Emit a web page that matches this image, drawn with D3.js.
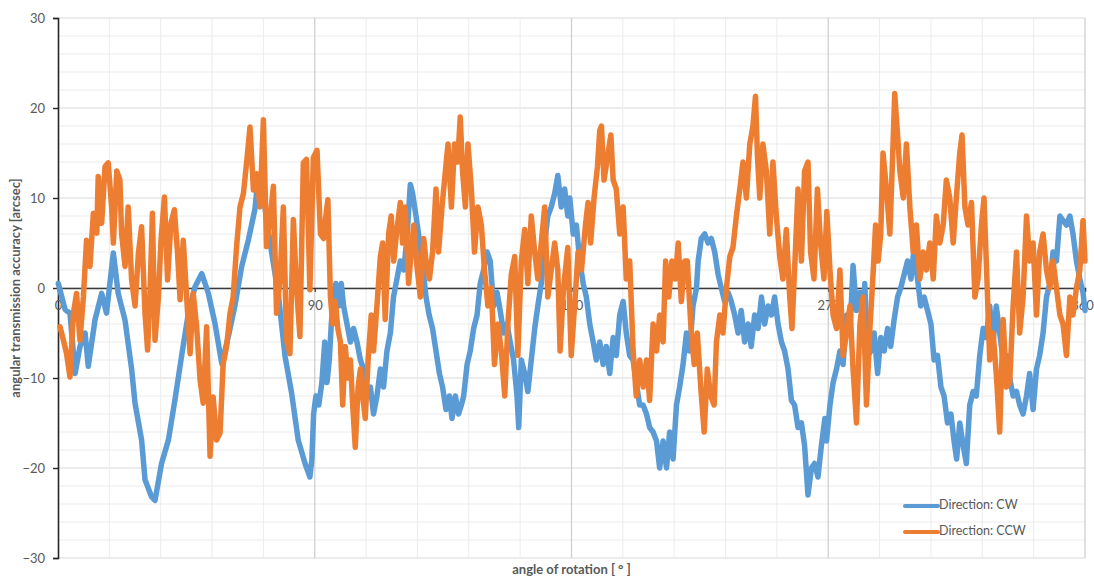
<!DOCTYPE html>
<html>
<head>
<meta charset="utf-8">
<script src="https://cdn.jsdelivr.net/npm/d3@7"></script>
<style>
  html, body { margin: 0; padding: 0; background: #ffffff; }
  svg { display: block; }
  text { font-family: Lato, "Open Sans", "Liberation Sans", sans-serif; }
</style>
</head>
<body>
<svg id="chart" width="1094" height="580"></svg>
<script>
// ---------- data ----------
const xTickLabels = ["0", "90", "180", "270", "360"];
const xTickValues = [0, 90, 180, 270, 360];
const yTickValues = [-30, -20, -10, 0, 10, 20, 30];
const seriesNames = ["Direction: CW", "Direction: CCW"];

const cwAngle = [
  0.1, 2.5, 4.2, 6.0, 7.7, 9.5, 10.6, 13.0, 15.3, 17.0, 19.4, 21.1, 23.5, 25.8, 27.0, 29.3, 30.5, 32.8, 34.0, 36.3,
  38.7, 41.0, 43.3, 45.7, 48.0, 50.4, 52.7, 55.0, 57.4, 59.7, 62.0, 64.4, 66.7, 69.0, 70.2, 72.5, 74.9, 77.2, 79.6, 81.9,
  84.2, 86.6, 88.3, 89.0, 89.6, 90.4, 91.4, 92.5, 93.5, 94.3, 95.1, 95.8, 96.6, 97.4, 98.4, 99.3, 100.1, 101.3, 102.5, 103.6,
  104.8, 106.0, 107.1, 108.3, 109.5, 110.6, 111.8, 113.0, 114.1, 115.3, 116.5, 117.6, 118.8, 120.0, 121.2, 122.3, 123.5, 124.3, 125.5, 126.6,
  127.8, 129.0, 130.1, 131.3, 132.5, 133.7, 134.8, 136.0, 137.2, 138.1, 139.3, 140.4, 141.4, 142.2, 143.4, 144.5, 145.7, 146.9, 148.0, 149.2,
  150.4, 151.5, 152.7, 153.9, 155.0, 156.2, 157.4, 158.5, 159.7, 160.9, 161.5, 162.4, 163.6, 164.7, 165.9, 167.1, 168.2, 169.4, 170.6, 171.7,
  172.9, 174.1, 175.2, 176.4, 177.6, 178.7, 179.4, 180.6, 181.7, 182.9, 184.1, 185.2, 186.4, 187.6, 188.7, 189.9, 191.1, 192.2, 193.4, 194.6,
  195.7, 196.9, 198.1, 199.2, 200.4, 201.6, 202.7, 203.9, 205.1, 206.3, 207.4, 208.6, 209.8, 210.9, 212.1, 213.3, 214.4, 215.6, 216.8, 217.9,
  219.1, 220.3, 221.4, 222.6, 223.8, 224.4, 225.5, 226.7, 227.9, 229.0, 230.2, 231.4, 232.5, 233.7, 234.9, 236.0, 237.2, 238.4, 239.5, 240.7,
  241.9, 243.0, 244.2, 245.4, 246.6, 247.7, 248.9, 250.1, 251.2, 252.4, 253.6, 254.7, 255.9, 257.1, 258.2, 259.4, 260.6, 261.7, 262.9, 264.1,
  265.2, 266.4, 267.6, 268.8, 269.4, 270.6, 271.7, 272.9, 274.1, 275.2, 276.4, 277.6, 278.7, 279.9, 281.1, 282.2, 282.8, 283.8, 285.0, 286.1,
  287.3, 288.4, 289.6, 290.8, 291.9, 293.1, 294.3, 295.4, 296.6, 297.8, 299.0, 300.1, 301.3, 302.4, 303.6, 304.8, 306.0, 307.1, 308.3, 309.5,
  310.6, 311.8, 313.0, 314.1, 315.0, 316.1, 317.3, 318.4, 319.6, 320.8, 321.9, 323.1, 324.3, 325.4, 326.6, 327.8, 328.9, 330.1, 331.3, 332.5,
  333.6, 334.8, 336.0, 337.1, 338.3, 339.5, 340.6, 341.8, 343.0, 344.1, 345.3, 346.5, 347.7, 348.8, 350.0, 351.2, 352.3, 353.5, 354.7, 355.8,
  357.0, 358.2, 359.3, 360.0
];
const cwValue = [
  0.5, -2.4, -2.8, -9.5, -6.5, -5, -8.7, -3.5, -0.6, -2.8, 3.9, -0.6, -3.6, -9, -12.8, -16.9, -21.3, -23.2, -23.6, -19.5,
  -16.9, -12.4, -7.6, -2.8, 0.1, 1.6, -0.6, -3.9, -8.4, -5.4, -2, 2.4, 5.3, 8.7, 12.4, 9, 3.9, -0.6, -7.6, -11.7,
  -16.9, -19.5, -21, -19, -14, -12, -13, -10.5, -6, -10.5, -8, -4, -1, 0.5, -2, 0.5, -2, -4, -6, -4.5,
  -6, -8, -9, -12, -11, -14, -12, -9, -11, -7, -5, -1, 1, 3, 2, 5.5, 11.5, 10.5, 8, 5.5,
  2.5, -1, -3, -4.5, -7, -9.5, -11, -13.5, -12, -14.5, -12, -14, -13, -12, -8.5, -7, -4.5, -3, 0.5, 2,
  4, 3, -2, -0.5, -2.5, -5, -4, -6, -8, -12, -15.5, -8, -9.5, -11.5, -8, -4.5, -2, 0.5, 5, 8,
  9, 10.5, 12.5, 9, 11, 8, 10, 6, 7, 3, 0.5, -1, -4, -6, -8, -6, -8.5, -6.5, -9.5, -5.5,
  -7.5, -3, -1.5, -5, -7.5, -8, -10.5, -13, -13, -14, -15.5, -16, -17, -20, -17, -20, -16, -19, -13, -11,
  -8.5, -5, -7, -2, 0, 3, 5.5, 6, 5, 5.5, 4, 1.5, 0, -1.5, -0.5, -1.5, -3, -5, -2.5, -6,
  -4, -6.5, -3, -4.5, -1, -4, -2, -3, -1, -4, -6, -7, -9, -12.5, -13, -15.5, -15, -17.5, -23, -20,
  -19.5, -21, -17.5, -14.5, -17, -13, -10.5, -9, -7, -8.5, -3, -5, 2.5, -2.5, -0.5, -3, 0.5, -7.5, -7, -5,
  -9.5, -5.5, -7, -4.5, -6.5, -3.5, -1, 0, 1.5, 3, 1, 4.5, 1, -2, -1, -2.5, -4, -8, -7.5, -11,
  -12, -15, -14, -17, -19, -15, -17.5, -19.5, -13, -11.5, -12, -7.5, -4.5, -5.5, -2, -6, -2, -5, -8, -7.5,
  -10, -12, -11.5, -13, -14, -12, -9.5, -13.5, -9, -7.5, -5, -1, 0.5, 4, 3, 8, 7.5, 7, 8, 6,
  3, 1, -0.5, -2.5
];

const ccwAngle = [
  0.7, 1.9, 3.0, 4.2, 5.4, 6.5, 7.7, 8.9, 10.0, 11.2, 12.4, 13.6, 14.1, 15.3, 16.5, 17.6, 18.8, 19.4, 20.6, 21.7,
  22.3, 23.5, 24.6, 25.8, 27.0, 28.2, 29.3, 30.5, 31.4, 32.2, 33.1, 34.0, 35.2, 36.1, 37.3, 38.4, 39.6, 40.8, 41.9, 42.8,
  43.9, 45.1, 46.3, 47.4, 48.6, 49.8, 50.9, 52.1, 53.3, 54.4, 55.6, 56.8, 57.9, 59.1, 60.3, 61.4, 62.6, 63.8, 65.0, 66.1,
  67.3, 68.5, 69.6, 70.8, 72.0, 73.1, 74.3, 75.5, 76.6, 77.8, 79.0, 80.1, 81.3, 82.5, 83.6, 84.8, 86.0, 87.1, 88.3, 89.5,
  90.8, 92.0, 93.1, 93.9, 94.6, 95.5, 96.3, 97.2, 98.1, 99.0, 99.8, 100.7, 101.6, 102.5, 103.3, 104.2, 105.2, 106.0, 106.8, 107.7,
  108.7, 109.8, 110.6, 111.8, 113.0, 113.8, 114.7, 115.9, 116.8, 117.7, 118.8, 120.0, 120.8, 121.7, 122.9, 123.8, 124.7, 125.8, 127.0, 128.2,
  129.0, 130.2, 131.3, 132.5, 133.4, 134.6, 135.5, 136.7, 137.9, 139.0, 140.1, 141.0, 141.8, 142.8, 143.7, 144.9, 146.0, 147.2, 148.4, 149.5,
  150.7, 151.9, 153.0, 154.2, 155.4, 156.6, 157.7, 158.9, 160.1, 161.2, 162.4, 163.6, 164.7, 165.9, 167.1, 168.2, 169.4, 170.6, 171.7, 172.9,
  174.1, 175.2, 176.0, 177.2, 178.7, 179.9, 181.4, 182.3, 183.5, 184.9, 185.8, 186.7, 187.9, 189.1, 189.9, 190.5, 191.4, 192.6, 193.8, 194.6,
  195.7, 196.9, 198.1, 199.2, 200.4, 201.6, 202.7, 203.9, 205.1, 206.3, 207.4, 208.6, 209.8, 210.9, 212.1, 213.0, 214.1, 215.2, 216.4, 217.4,
  218.5, 219.7, 220.6, 221.8, 223.0, 224.1, 225.3, 226.5, 227.6, 228.8, 230.0, 230.8, 232.0, 233.1, 234.3, 235.5, 236.6, 237.8, 239.0, 240.1,
  241.3, 242.5, 243.6, 244.5, 245.2, 246.0, 247.1, 248.3, 249.5, 250.6, 251.8, 253.0, 254.1, 255.3, 256.5, 257.3, 258.2, 259.4, 260.6, 261.7,
  262.9, 263.8, 265.0, 266.2, 267.3, 268.5, 269.5, 270.6, 271.7, 272.9, 274.1, 275.2, 276.4, 277.6, 278.7, 279.9, 281.1, 282.2, 283.4, 284.6,
  285.7, 286.6, 287.5, 288.4, 289.2, 290.4, 291.6, 292.5, 293.3, 294.3, 295.1, 296.3, 297.4, 298.6, 299.8, 300.9, 302.1, 303.3, 304.4, 305.6,
  306.8, 307.9, 309.1, 310.3, 311.4, 312.6, 313.8, 314.9, 316.1, 316.9, 317.9, 319.0, 320.2, 321.4, 322.5, 323.7, 324.6, 325.5, 326.6, 327.8,
  329.0, 330.1, 331.3, 332.5, 333.6, 334.8, 336.0, 337.1, 338.3, 339.5, 340.6, 341.8, 343.0, 344.1, 345.3, 346.5, 347.7, 348.8, 350.0, 351.2,
  352.3, 353.5, 354.7, 355.8, 357.0, 358.2, 359.3, 360.0
];
const ccwValue = [
  -4.3, -5.8, -7.3, -9.9, -2.8, -0.6, -5.8, -1, 5.3, 2.4, 8.3, 6.1, 12.4, 7.2, 13.5, 13.9, 9, 5, 13, 12,
  6, 2.4, 9, 0.9, -2, 3.9, 6.8, -2.8, -6.9, -1, 8.3, -5.8, -1, 5.3, 10.1, 0.9, 7.2, 8.7, 3.9, -1.3,
  5.3, -1, -7.3, -0.6, -4.3, -10.2, -12.8, -4.3, -18.7, -12.1, -16.9, -16.1, -8.4, -6.5, -2.8, -1, 4.6, 9, 10.5, 13.9,
  17.9, 10.9, 12.7, 9, 18.7, 4.6, 7.6, 11.3, -2.8, 0.9, 9, -5.8, -7.3, 7.6, 0.1, -5.4, 13.9, 14.3, -0.2, 14.5,
  15.3, 6, 5.5, 8, 9.8, -1, -4, -1.5, -4.5, -6, -13, -6.5, -10, -8, -13, -17.7, -11, -9, -12, -14.5,
  -8, -3, -7, -2, 3.5, 5, -3.5, 6, 8, 3, 6.5, 9.5, 5, 9, 0.5, 4, 7, 2.5, -1, 5.5,
  3, 1, 4, 11, 4, 9, 12, 16, 9, 16, 14, 19, 13, 9, 16, 11, 4, 9, 7, 2,
  -2, 0, -8.5, -4, -7, -12, -4, 1.5, 3.5, -7.5, 3, 6.5, 0.5, 8, 4, 1, 5, 9, -1, 2,
  5, 2, -7, 0, 4.5, -7.5, -0.5, 4, 2, 7, 9.5, 5, 10, 13.5, 17.5, 18, 12, 14.5, 17, 12,
  11, 6, 9, 1, 3, -7, -12, -8, -11, -8, -12.5, -4, -7, -3, -6, 3, -1, 3, 1, 5,
  -1.5, 3, 3, -4, -8.5, -5, -11, -16, -9, -12, -13, -6, -3, -5, 0, 3.5, 4.5, 8, 11, 14,
  10, 16, 18, 21.3, 14.5, 10, 16, 13, 6, 14, 8, 3.5, 1, 6.5, -1, -4.5, 2, 11, 3, 13,
  14, 4, 1, 11, 5, 1, 8.5, 2, -3, -4.5, 2, -7.5, -5, -2, -9, -15, -4, -1, -13, -4.5,
  1.5, 7, 3, 6, 15, 11, 6, 14, 21.6, 17, 13, 10, 16, 9, 4, 7, 1, 4, 2, 5,
  1, 8, 5, 7, 12, 10, 5, 10, 15, 17, 9, 7, 9.5, -1, 1, 7, 10, 2, -8, -5,
  -10, -16, -3.5, -11, -10.5, -2, 4, -5, -1, 8, 3, 5, -3, 4, 6, 2, 0, 3, 0, -3,
  -4, -7.5, -1, -3, 0, 2, 7.5, 3
];

// ---------- drawing ----------
const W = 1094, H = 580;
const plot = { left: 58, right: 1085, top: 18, bottom: 558 };
const svg = d3.select("#chart");

const x = d3.scaleLinear().domain([0, 360]).range([plot.left, plot.right]);
const y = d3.scaleLinear().domain([-30, 30]).range([plot.bottom, plot.top]);

const textColor = "#595959";
const colors = ["#5b9bd5", "#ed7d31"];

svg.append("rect").attr("width", W).attr("height", H).attr("fill", "#fff");

// horizontal grid (every 2)
const g = svg.append("g");
g.selectAll("line.hg").data(d3.range(-30, 31, 2)).join("line")
  .attr("x1", plot.left).attr("x2", plot.right)
  .attr("y1", d => y(d)).attr("y2", d => y(d))
  .attr("stroke", d => d % 10 === 0 ? "#d9d9d9" : "#ececec")
  .attr("stroke-width", 1);

// vertical grid (every 18)
g.selectAll("line.vg").data(d3.range(18, 361, 18)).join("line")
  .attr("y1", plot.top).attr("y2", plot.bottom)
  .attr("x1", d => x(d)).attr("x2", d => x(d))
  .attr("stroke", d => d % 90 === 0 ? "#d0d0d0" : "#ececec")
  .attr("stroke-width", d => d % 90 === 0 ? 1.3 : 1);

// y axis
const yAxis = svg.append("g")
  .attr("transform", `translate(${plot.left},0)`)
  .call(d3.axisLeft(y).tickValues(yTickValues).tickSize(5).tickPadding(8));
yAxis.select(".domain").attr("stroke", "#262626").attr("stroke-width", 1.6);
yAxis.selectAll(".tick line").attr("stroke", "#262626").attr("stroke-width", 1.4);
yAxis.selectAll(".tick text").attr("fill", textColor).style("font-size", "13px")
  .style("font-family", "Lato, 'Open Sans', sans-serif");

// x axis (at zero)
const xAxis = svg.append("g")
  .attr("transform", `translate(0,${y(0)})`)
  .call(d3.axisBottom(x).tickValues(xTickValues).tickFormat((d, i) => xTickLabels[i]).tickSize(4).tickPadding(9));
xAxis.select(".domain").attr("stroke", "#3a3a3a").attr("stroke-width", 1.4);
xAxis.selectAll(".tick line").attr("stroke", "#3a3a3a").attr("stroke-width", 1.2);
xAxis.selectAll(".tick text").attr("fill", textColor).style("font-size", "13px")
  .style("font-family", "Lato, 'Open Sans', sans-serif");
// keep the last label inside the picture
xAxis.selectAll(".tick text").filter(d => d === 360).attr("dx", -3);

// series
const line = d3.line().x(d => x(d[0])).y(d => y(d[1]));
const cwData = d3.zip(cwAngle, cwValue);
const ccwData = d3.zip(ccwAngle, ccwValue);

svg.append("path").datum(cwData).attr("d", line)
  .attr("fill", "none").attr("stroke", colors[0]).attr("stroke-width", 5.5)
  .attr("stroke-linejoin", "round").attr("stroke-linecap", "round");
svg.append("path").datum(ccwData).attr("d", line)
  .attr("fill", "none").attr("stroke", colors[1]).attr("stroke-width", 5.5)
  .attr("stroke-linejoin", "round").attr("stroke-linecap", "round");

// axis titles
svg.append("text")
  .attr("transform", `translate(17,${(plot.top + plot.bottom) / 2}) rotate(-90)`)
  .attr("text-anchor", "middle").attr("dominant-baseline", "middle")
  .attr("fill", textColor).style("font-size", "13px").style("font-weight", "bold")
  .text("angular transmission accuracy [arcsec]");

svg.append("text")
  .attr("x", (plot.left + plot.right) / 2).attr("y", 571)
  .attr("text-anchor", "middle").attr("dominant-baseline", "middle")
  .attr("fill", textColor).style("font-size", "13px").style("font-weight", "bold")
  .text("angle of rotation [ ° ]");

// legend
const legend = svg.append("g").attr("transform", "translate(905,506)");
seriesNames.forEach((name, i) => {
  const row = legend.append("g").attr("transform", `translate(0,${i * 26})`);
  row.append("line").attr("x1", 0).attr("x2", 33).attr("y1", 0).attr("y2", 0)
    .attr("stroke", colors[i]).attr("stroke-width", 4).attr("stroke-linecap", "round");
  row.append("text").attr("x", 34).attr("y", 0).attr("dominant-baseline", "middle")
    .attr("fill", textColor).style("font-size", "12.5px").text(name);
});
</script>
</body>
</html>
